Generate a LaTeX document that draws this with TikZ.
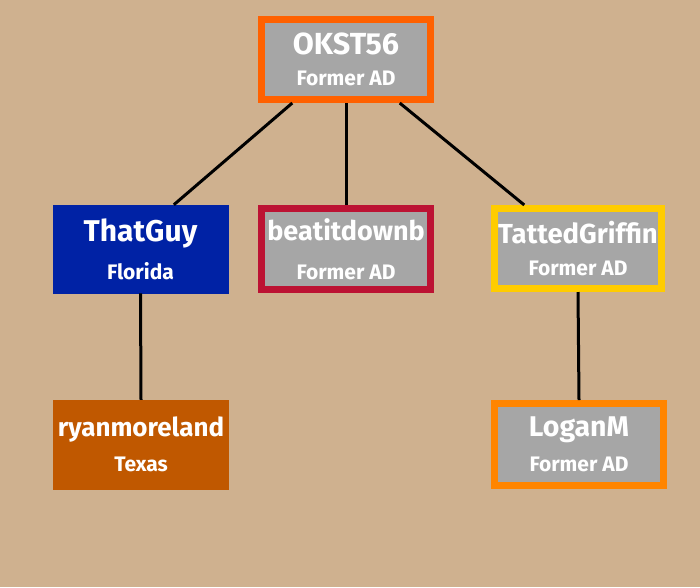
\documentclass[tikz,border=0pt]{standalone}
\usepackage{fontspec}
\setmainfont{Fira Sans}
\usetikzlibrary{calc}
\definecolor{bgtan}{HTML}{CFB18F}
\definecolor{boxgray}{HTML}{A6A6A6}
\definecolor{okorange}{HTML}{FF6100}
\definecolor{gatorblue}{HTML}{0022A5}
\definecolor{crimson}{HTML}{BC1233}
\definecolor{gold}{HTML}{FFCC00}
\definecolor{texasorange}{HTML}{C05800}
\definecolor{loganorange}{HTML}{FF8500}
\newcommand\bigname[2][30]{{\fontsize{#1}{#1}\selectfont #2}}
\tikzset{
  box/.style = {rectangle, fill=boxgray, draw=#1, line width=7pt,
    minimum width=169pt, minimum height=80pt, inner sep=0pt,
    text=white, align=center, font=\bfseries\fontsize{21}{23}\selectfont},
  plainbox/.style = {rectangle, fill=#1, draw=#1, line width=0.5pt,
    minimum width=175pt, minimum height=88pt, inner sep=0pt,
    text=white, align=center, font=\bfseries\fontsize{21}{23}\selectfont},
  link/.style = {line width=3pt, black}
}

\begin{document}
\begin{tikzpicture}[x=1pt, y=-1pt]
			\fill[bgtan] (0,0) rectangle (700,587);
			\useasboundingbox (0,0) rectangle (700,587);

			\node[box=okorange] (okst) at (346,59.5) {\bigname[30.5]{OKST56}\\[8pt]Former AD};
			\node[plainbox=gatorblue] (thatguy) at (140.5,249) {\bigname{ThatGuy}\\[13pt]Florida};
			\node[box=crimson, minimum height=81pt] (beatit) at (346,249) {\bigname[27]{beatitdownb}\\[16pt]Former AD};
			\node[box=gold, minimum width=167pt] (tatted) at (578,248.5) {\bigname[27.5]{TattedGriffin}\\[9pt]Former AD};
			\node[plainbox=texasorange, minimum height=89pt] (ryan) at (141,444.5) {\bigname[26]{ryanmoreland}\\[12pt]Texas};
			\node[box=loganorange, minimum height=82pt] (logan) at (579,444.5) {\bigname[28.5]{LoganM}\\[12pt]Former AD};

			\draw[link] (okst.219) -- (thatguy.53);
			\draw[link] (okst.south) -- (beatit.north);
			\draw[link] (okst.321) -- (tatted.141);
			\draw[link] (thatguy.south) -- (ryan.north);
			\draw[link] (tatted.south) -- (logan.north);
		\end{tikzpicture}
\end{document}
